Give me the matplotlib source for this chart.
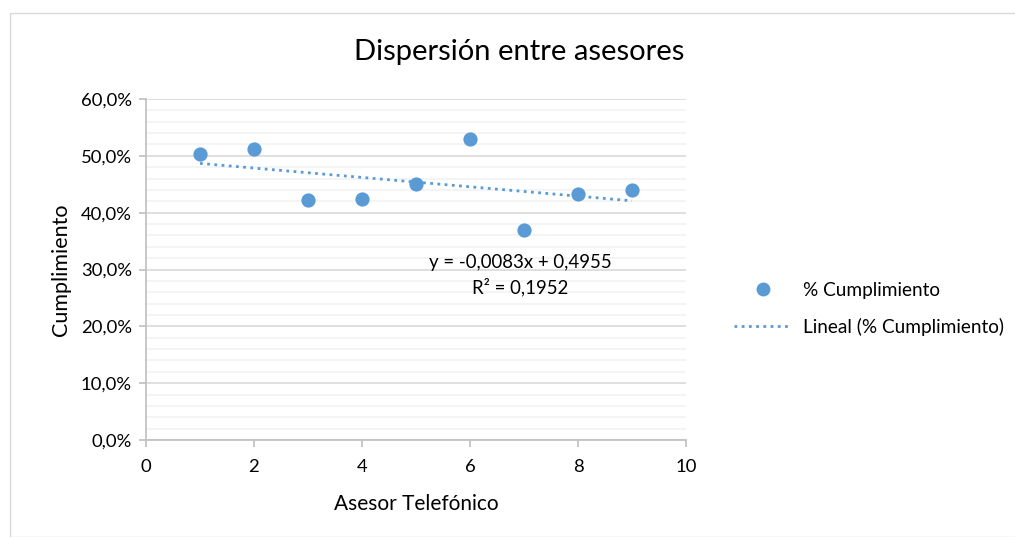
import numpy as np
import matplotlib
matplotlib.use("Agg")
import matplotlib.pyplot as plt
from matplotlib.patches import Rectangle
from matplotlib.lines import Line2D
from matplotlib.ticker import MultipleLocator, FuncFormatter

plt.rcParams['font.family'] = ['Lato', 'DejaVu Sans']

# data
asesor = [1, 2, 3, 4, 5, 6, 7, 8, 9]
cumplimiento = [0.504, 0.512, 0.422, 0.424, 0.450, 0.530, 0.370, 0.432, 0.440]
equation_text = "y = -0,0083x + 0,4955"
r2_text = "R² = 0,1952"

blue = "#5B9BD5"

fig = plt.figure(figsize=(10.15, 5.37), dpi=100)

# chart frame
fig.patches.append(Rectangle((10 / 1015, 0), 1.1, 1 - 13 / 537, transform=fig.transFigure,
                             fill=False, edgecolor="#D9D9D9", linewidth=1))

ax = fig.add_axes([146 / 1015, 1 - 440 / 537, 540 / 1015, 341 / 537])

ax.scatter(asesor, cumplimiento, s=105, color=blue, zorder=3, linewidths=0)

# linear trend
coef = np.polyfit(asesor, cumplimiento, 1)
xs = np.array([asesor[0], asesor[-1]])
ax.plot(xs, np.polyval(coef, xs), color=blue, linestyle=(0, (1, 1.6)), linewidth=2, zorder=2)

ax.set_xlim(0, 10)
ax.set_ylim(0, 0.6)
ax.xaxis.set_major_locator(MultipleLocator(2))
ax.yaxis.set_major_locator(MultipleLocator(0.1))
ax.yaxis.set_minor_locator(MultipleLocator(0.02))
ax.yaxis.set_major_formatter(FuncFormatter(lambda v, p: f"{v * 100:.1f}%".replace(".", ",")))

ax.grid(True, which="major", axis="y", color="#D9D9D9", linewidth=1.2, zorder=0)
ax.grid(True, which="minor", axis="y", color="#F2F2F2", linewidth=1.2, zorder=0)
ax.set_axisbelow(True)

for s in ["top", "right"]:
    ax.spines[s].set_visible(False)
for s in ["left", "bottom"]:
    ax.spines[s].set_color("#BFBFBF")
    ax.spines[s].set_linewidth(1.2)
ax.tick_params(axis="both", which="major", color="#BFBFBF", length=5, width=1.2,
               labelsize=13.3, labelcolor="black", pad=5)
ax.tick_params(axis="x", which="major", pad=9)
ax.tick_params(axis="y", which="minor", length=0)

ax.set_xlabel("Asesor Telefónico", fontsize=15, color="black", labelpad=13)
ax.set_ylabel("Cumplimiento", fontsize=15.5, color="black", labelpad=7)

fig.text(519 / 1015, 1 - 52 / 537, "Dispersión entre asesores", ha="center", va="center",
         fontsize=21, color="black")

ax.text(6.93, 0.313, equation_text, ha="center", va="center", fontsize=13.4, color="black")
ax.text(6.93, 0.269, r2_text, ha="center", va="center", fontsize=13.4, color="black")

handles = [
    Line2D([], [], marker="o", linestyle="none", color=blue, markersize=10, markeredgewidth=0),
    Line2D([], [], color=blue, linestyle=(0, (1, 1.6)), linewidth=2),
]
fig.legend(handles, ["% Cumplimiento", "Lineal (% Cumplimiento)"], loc="center left",
           bbox_to_anchor=(717 / 1015, 1 - 309 / 537), frameon=False, fontsize=13.7,
           handlelength=3.0, labelspacing=1.0, handletextpad=0.6)

fig.savefig("out.png", dpi=100)
